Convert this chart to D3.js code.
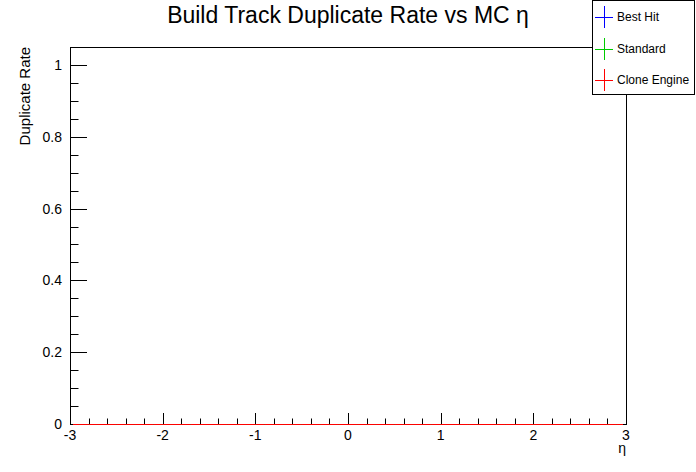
<!DOCTYPE html>
<html><head><meta charset="utf-8">
<script src="https://cdn.jsdelivr.net/npm/d3@7"></script>
<style>body{margin:0;background:#fff}svg{display:block}text{font-family:"Liberation Sans",Arial,sans-serif}</style>
</head><body>
<script>
// ---- data ----
const seriesNames = ["Best Hit", "Standard", "Clone Engine"];
const seriesColors = ["#0000ff", "#00cc00", "#ff0000"];
const etaBinEdges = d3.range(61).map(i => -3 + i * 0.1); // 60 bins from -3 to 3
const bestHitRate = new Array(60).fill(0);
const standardRate = new Array(60).fill(0);
const cloneEngineRate = new Array(60).fill(0);
const xTicks = [-3, -2, -1, 0, 1, 2, 3];
const yTicks = [0, 0.2, 0.4, 0.6, 0.8, 1];
const titleText = "Build Track Duplicate Rate vs MC η";
const xTitle = "η";
const yTitle = "Duplicate Rate";

const W = 696, H = 472;
const m = {l: 70, r: 626, t: 47, b: 424};
const svg = d3.select("body").append("svg").attr("width", W).attr("height", H);

const x = d3.scaleLinear().domain([-3, 3]).range([m.l, m.r]);
const y = d3.scaleLinear().domain([0, 1.05]).range([m.b, m.t]);

// frame
svg.append("rect").attr("x", m.l + 0.5).attr("y", m.t + 0.5)
  .attr("width", m.r - m.l).attr("height", m.b - m.t)
  .attr("fill", "none").attr("stroke", "#000");

// x axis ticks
const xMinor = d3.range(-3, 3.0001, 0.2);
svg.append("g").selectAll("line").data(xMinor).join("line")
  .attr("x1", d => Math.round(x(d)) + 0.5).attr("x2", d => Math.round(x(d)) + 0.5)
  .attr("y1", m.b).attr("y2", d => Math.abs(d - Math.round(d)) < 1e-6 ? m.b - 11 : m.b - 5.5)
  .attr("stroke", "#000");
svg.append("g").selectAll("text").data(xTicks).join("text")
  .attr("x", d => x(d)).attr("y", 440).attr("text-anchor", "middle")
  .attr("font-size", 14).text(d => d);

// y axis ticks
const yMinor = d3.range(0, 1.0501, 0.05);
svg.append("g").selectAll("line").data(yMinor).join("line")
  .attr("y1", d => Math.round(y(d)) + 0.5).attr("y2", d => Math.round(y(d)) + 0.5)
  .attr("x1", m.l).attr("x2", d => Math.abs(d * 5 - Math.round(d * 5)) < 1e-6 ? m.l + 17 : m.l + 8.5)
  .attr("stroke", "#000");
svg.append("g").selectAll("text").data(yTicks).join("text")
  .attr("x", 62).attr("y", d => y(d) + 5).attr("text-anchor", "end")
  .attr("font-size", 14).text(d => d);

// titles
svg.append("text").attr("x", 348).attr("y", 23).attr("text-anchor", "middle")
  .attr("font-size", 23).text(titleText);
svg.append("text").attr("x", m.r).attr("y", 453).attr("text-anchor", "end")
  .attr("font-size", 14).text(xTitle);
svg.append("text").attr("transform", `translate(30,${m.t}) rotate(-90)`)
  .attr("text-anchor", "end").attr("font-size", 15).text(yTitle);

// data (error bars along x)
svg.append("clipPath").attr("id", "fr").append("rect")
  .attr("x", m.l + 3).attr("y", m.t).attr("width", m.r - m.l - 6).attr("height", m.b - m.t + 2);
const series = [bestHitRate, standardRate, cloneEngineRate];
const dg = svg.append("g").attr("clip-path", "url(#fr)");
series.forEach((vals, si) => {
  dg.append("g").selectAll("line").data(vals).join("line")
    .attr("x1", (d, i) => x(etaBinEdges[i])).attr("x2", (d, i) => x(etaBinEdges[i + 1]))
    .attr("y1", d => y(d) + 0.5).attr("y2", d => y(d) + 0.5)
    .attr("stroke", seriesColors[si]).attr("stroke-width", 1);
});

// legend
const lg = svg.append("g");
lg.append("rect").attr("x", 592.5).attr("y", 0.5).attr("width", 102).attr("height", 94)
  .attr("fill", "#fff").attr("stroke", "#000");
const lgY = [17, 49, 80];
seriesNames.forEach((n, i) => {
  const cy = lgY[i];
  lg.append("line").attr("x1", 595).attr("x2", 613).attr("y1", cy + 0.5).attr("y2", cy + 0.5).attr("stroke", seriesColors[i]);
  lg.append("line").attr("x1", 604.5).attr("x2", 604.5).attr("y1", cy - 11).attr("y2", cy + 11).attr("stroke", seriesColors[i]);
  lg.append("text").attr("x", 617).attr("y", cy + 4).attr("font-size", 12).text(n);
});
</script>
</body></html>
